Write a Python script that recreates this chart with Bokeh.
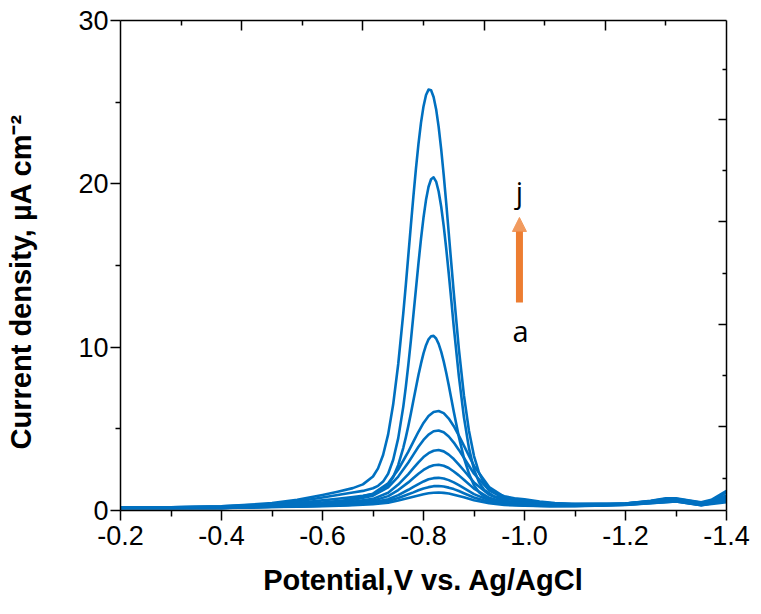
from bokeh.plotting import figure
from bokeh.models import (Range1d, LinearAxis, FixedTicker, PrintfTickFormatter,
                          Label, Arrow, NormalHead, CustomJSTickFormatter)
from bokeh.embed import file_html
from bokeh.resources import INLINE

# ---------------- data ----------------
# potential grid used for the seven small curves a-g
potential = [-0.20, -0.30, -0.40, -0.50, -0.55, -0.60, -0.65, -0.70, -0.73, -0.75,
             -0.77, -0.78, -0.79, -0.80, -0.81, -0.82, -0.83, -0.84, -0.85, -0.86,
             -0.87, -0.88, -0.90, -0.93, -0.96, -1.00, -1.05, -1.10, -1.20, -1.30,
             -1.35, -1.40]
# finer potential grid used for the three tall curves h-j
potential_fine = [-0.20, -0.30, -0.40, -0.50, -0.55, -0.60, -0.63, -0.66, -0.68, -0.70,
                  -0.71, -0.72, -0.73, -0.74, -0.75, -0.76, -0.765, -0.77, -0.775, -0.78,
                  -0.785, -0.79, -0.795, -0.80, -0.805, -0.81, -0.815, -0.82, -0.825, -0.83,
                  -0.835, -0.84, -0.845, -0.85, -0.855, -0.86, -0.87, -0.88, -0.89, -0.90,
                  -0.91, -0.92, -0.94, -0.96, -0.98, -1.00, -1.03, -1.06, -1.10, -1.15,
                  -1.20, -1.25, -1.28, -1.30, -1.33, -1.35, -1.37, -1.40]

curve_a = [0.15, 0.15, 0.15, 0.21, 0.23, 0.26, 0.31, 0.39, 0.48, 0.61, 0.76, 0.84, 0.92, 1.00, 1.06, 1.09,
           1.10, 1.08, 1.04, 0.97, 0.89, 0.81, 0.63, 0.44, 0.34, 0.29, 0.26, 0.27, 0.34, 0.55, 0.32, 0.50]
curve_b = [0.15, 0.15, 0.15, 0.22, 0.25, 0.29, 0.34, 0.44, 0.58, 0.76, 0.99, 1.11, 1.24, 1.35, 1.43, 1.49,
           1.50, 1.47, 1.40, 1.31, 1.19, 1.06, 0.80, 0.52, 0.38, 0.31, 0.27, 0.28, 0.35, 0.56, 0.33, 0.60]
curve_c = [0.15, 0.15, 0.15, 0.23, 0.26, 0.30, 0.37, 0.50, 0.69, 0.94, 1.27, 1.45, 1.62, 1.78, 1.91, 1.98,
           2.00, 1.96, 1.86, 1.72, 1.55, 1.37, 1.00, 0.62, 0.43, 0.34, 0.29, 0.30, 0.36, 0.58, 0.34, 0.70]
curve_d = [0.15, 0.15, 0.16, 0.24, 0.28, 0.34, 0.42, 0.60, 0.88, 1.25, 1.72, 1.99, 2.25, 2.48, 2.66, 2.77,
           2.80, 2.74, 2.60, 2.39, 2.15, 1.88, 1.34, 0.78, 0.51, 0.38, 0.32, 0.32, 0.38, 0.60, 0.35, 0.75]
curve_e = [0.15, 0.15, 0.16, 0.25, 0.30, 0.38, 0.48, 0.71, 1.09, 1.59, 2.23, 2.59, 2.95, 3.27, 3.51, 3.66,
           3.70, 3.62, 3.42, 3.15, 2.81, 2.45, 1.72, 0.96, 0.59, 0.43, 0.35, 0.35, 0.40, 0.62, 0.36, 0.80]
curve_f = [0.15, 0.15, 0.17, 0.27, 0.34, 0.45, 0.59, 0.91, 1.41, 2.08, 2.94, 3.42, 3.90, 4.32, 4.65, 4.85,
           4.90, 4.79, 4.53, 4.16, 3.71, 3.23, 2.25, 1.23, 0.74, 0.53, 0.41, 0.39, 0.42, 0.65, 0.38, 0.85]
curve_g = [0.15, 0.15, 0.18, 0.28, 0.36, 0.48, 0.64, 1.03, 1.66, 2.51, 3.60, 4.22, 4.82, 5.36, 5.78, 6.03,
           6.09, 5.96, 5.63, 5.16, 4.59, 3.97, 2.73, 1.44, 0.84, 0.58, 0.44, 0.41, 0.43, 0.68, 0.40, 0.90]
curve_h = [0.20, 0.20, 0.22, 0.35, 0.45, 0.62, 0.72, 0.82, 0.90, 1.01,
           1.12, 1.29, 1.57, 2.05, 2.79, 3.84, 4.48, 5.18, 5.94, 6.73,
           7.52, 8.29, 8.99, 9.62, 10.12, 10.48, 10.67, 10.69, 10.53, 10.20,
           9.73, 9.13, 8.43, 7.67, 6.86, 6.04, 4.51, 3.23, 2.26, 1.55,
           1.12, 0.86, 0.62, 0.54, 0.50, 0.46, 0.40, 0.35, 0.30, 0.31,
           0.38, 0.55, 0.68, 0.68, 0.55, 0.45, 0.55, 0.90]
curve_i = [0.20, 0.20, 0.25, 0.40, 0.55, 0.80, 0.95, 1.10, 1.20, 1.36,
           1.51, 1.77, 2.25, 3.11, 4.43, 6.36, 7.57, 8.93, 10.40, 11.97,
           13.56, 15.13, 16.61, 17.93, 19.02, 19.82, 20.28, 20.40, 20.14, 19.53,
           18.61, 17.43, 16.04, 14.51, 12.90, 11.23, 8.22, 5.72, 3.82, 2.51,
           1.73, 1.27, 0.87, 0.72, 0.65, 0.60, 0.50, 0.42, 0.35, 0.35,
           0.42, 0.58, 0.72, 0.72, 0.58, 0.48, 0.60, 1.10]
curve_j = [0.20, 0.20, 0.25, 0.45, 0.65, 0.95, 1.15, 1.37, 1.60, 2.08,
           2.58, 3.40, 4.66, 6.50, 8.97, 12.09, 13.81, 15.63, 17.45, 19.23,
           20.91, 22.43, 23.73, 24.74, 25.44, 25.77, 25.73, 25.32, 24.57, 23.49,
           22.12, 20.55, 18.82, 16.99, 15.14, 13.33, 9.89, 7.06, 4.88, 3.33,
           2.30, 1.68, 1.09, 0.87, 0.75, 0.68, 0.55, 0.45, 0.37, 0.36,
           0.42, 0.60, 0.75, 0.75, 0.60, 0.50, 0.65, 1.20]

small_curves = [curve_a, curve_b, curve_c, curve_d, curve_e, curve_f, curve_g]
tall_curves = [curve_h, curve_i, curve_j]

x_ticks = [-0.2, -0.4, -0.6, -0.8, -1.0, -1.2, -1.4]
x_minor = [-0.3, -0.5, -0.7, -0.9, -1.1, -1.3]
y_ticks = [0, 10, 20, 30]
y_minor = [5, 15, 25]
top_ticks = [-0.44, -0.68, -0.92, -1.16]
top_minor = [-0.32, -0.56, -0.80, -1.04, -1.28]
right_ticks = [5.13, 11.41, 17.68, 23.96]
right_minor = [1.98, 8.25, 14.53, 20.80, 26.98]

LINE_COLOR = "#0070C0"
ARROW_COLOR = "#ED7D31"

p = figure(width=753, height=598, output_backend="svg", toolbar_location=None,
           x_range=Range1d(-0.2, -1.4), y_range=Range1d(0, 30),
           min_border_left=120, min_border_right=27, min_border_top=20, min_border_bottom=88)
p.grid.visible = False
p.outline_line_color = None
p.background_fill_color = "white"
p.border_fill_color = "white"

for ys in small_curves:
    p.line(potential, ys, line_color=LINE_COLOR, line_width=2.6, line_join="round")
for ys in tall_curves:
    p.line(potential_fine, ys, line_color=LINE_COLOR, line_width=2.6, line_join="round")

tick_font = "Liberation Sans"


def style_axis(ax, size="27px"):
    ax.axis_line_color = "black"
    ax.axis_line_width = 1.5
    ax.major_tick_line_color = "black"
    ax.minor_tick_line_color = "black"
    ax.major_tick_line_width = 1.5
    ax.minor_tick_line_width = 1.5
    ax.major_label_text_font = tick_font
    ax.major_label_text_font_size = size
    ax.major_label_text_color = "black"


xa = p.xaxis[0]
xa.ticker = FixedTicker(ticks=x_ticks, minor_ticks=x_minor)
xa.formatter = PrintfTickFormatter(format="%.1f")
style_axis(xa)
xa.major_tick_out = 10
xa.major_tick_in = 0
xa.minor_tick_out = 6
xa.minor_tick_in = 0
xa.major_label_standoff = 5
xa.major_label_text_line_height = 0.9
xa.axis_label = "Potential,V vs. Ag/AgCl"
xa.axis_label_text_font = tick_font
xa.axis_label_text_font_size = "29px"
xa.axis_label_text_font_style = "bold"
xa.axis_label_text_color = "black"
xa.axis_label_text_line_height = 0.9
xa.axis_label_standoff = 16

ya = p.yaxis[0]
ya.ticker = FixedTicker(ticks=y_ticks, minor_ticks=y_minor)
style_axis(ya)
ya.major_tick_out = 10
ya.major_tick_in = 0
ya.minor_tick_out = 5
ya.minor_tick_in = 0
ya.major_label_standoff = 2
# trailing no-break spaces move the centred title down, as in the reference
ya.axis_label = "Current density, µA cm⁻²" + "\u00a0" * 4
ya.axis_label_text_font = tick_font
ya.axis_label_text_font_size = "29px"
ya.axis_label_text_font_style = "bold"
ya.axis_label_text_color = "black"
ya.axis_label_standoff = 38

blank = CustomJSTickFormatter(code="return ''")
top = LinearAxis(ticker=FixedTicker(ticks=top_ticks, minor_ticks=top_minor), formatter=blank)
style_axis(top, "1px")
top.major_tick_in = 10
top.major_tick_out = 0
top.minor_tick_in = 5
top.minor_tick_out = 0
p.add_layout(top, "above")

right = LinearAxis(ticker=FixedTicker(ticks=right_ticks, minor_ticks=right_minor), formatter=blank)
style_axis(right, "1px")
right.major_tick_in = 8
right.major_tick_out = 0
right.minor_tick_in = 4
right.minor_tick_out = 0
p.add_layout(right, "right")

# ---- a -> j arrow annotation ----
p.add_layout(Arrow(end=NormalHead(size=14, fill_color="#F19A5E", line_color="#F19A5E"),
                   x_start=-0.99, y_start=12.73, x_end=-0.99, y_end=17.94,
                   line_color=ARROW_COLOR, line_width=7))
p.add_layout(Label(x=-0.990, y=19.53, text="j", text_align="center", text_baseline="middle",
                   text_font="Open Sans", text_font_size="29px", text_color="black"))
p.add_layout(Label(x=-0.992, y=11.02, text="a", text_align="center", text_baseline="middle",
                   text_font="Open Sans", text_font_size="29px", text_color="black"))

open("out.html", "w").write(file_html(p, INLINE))
